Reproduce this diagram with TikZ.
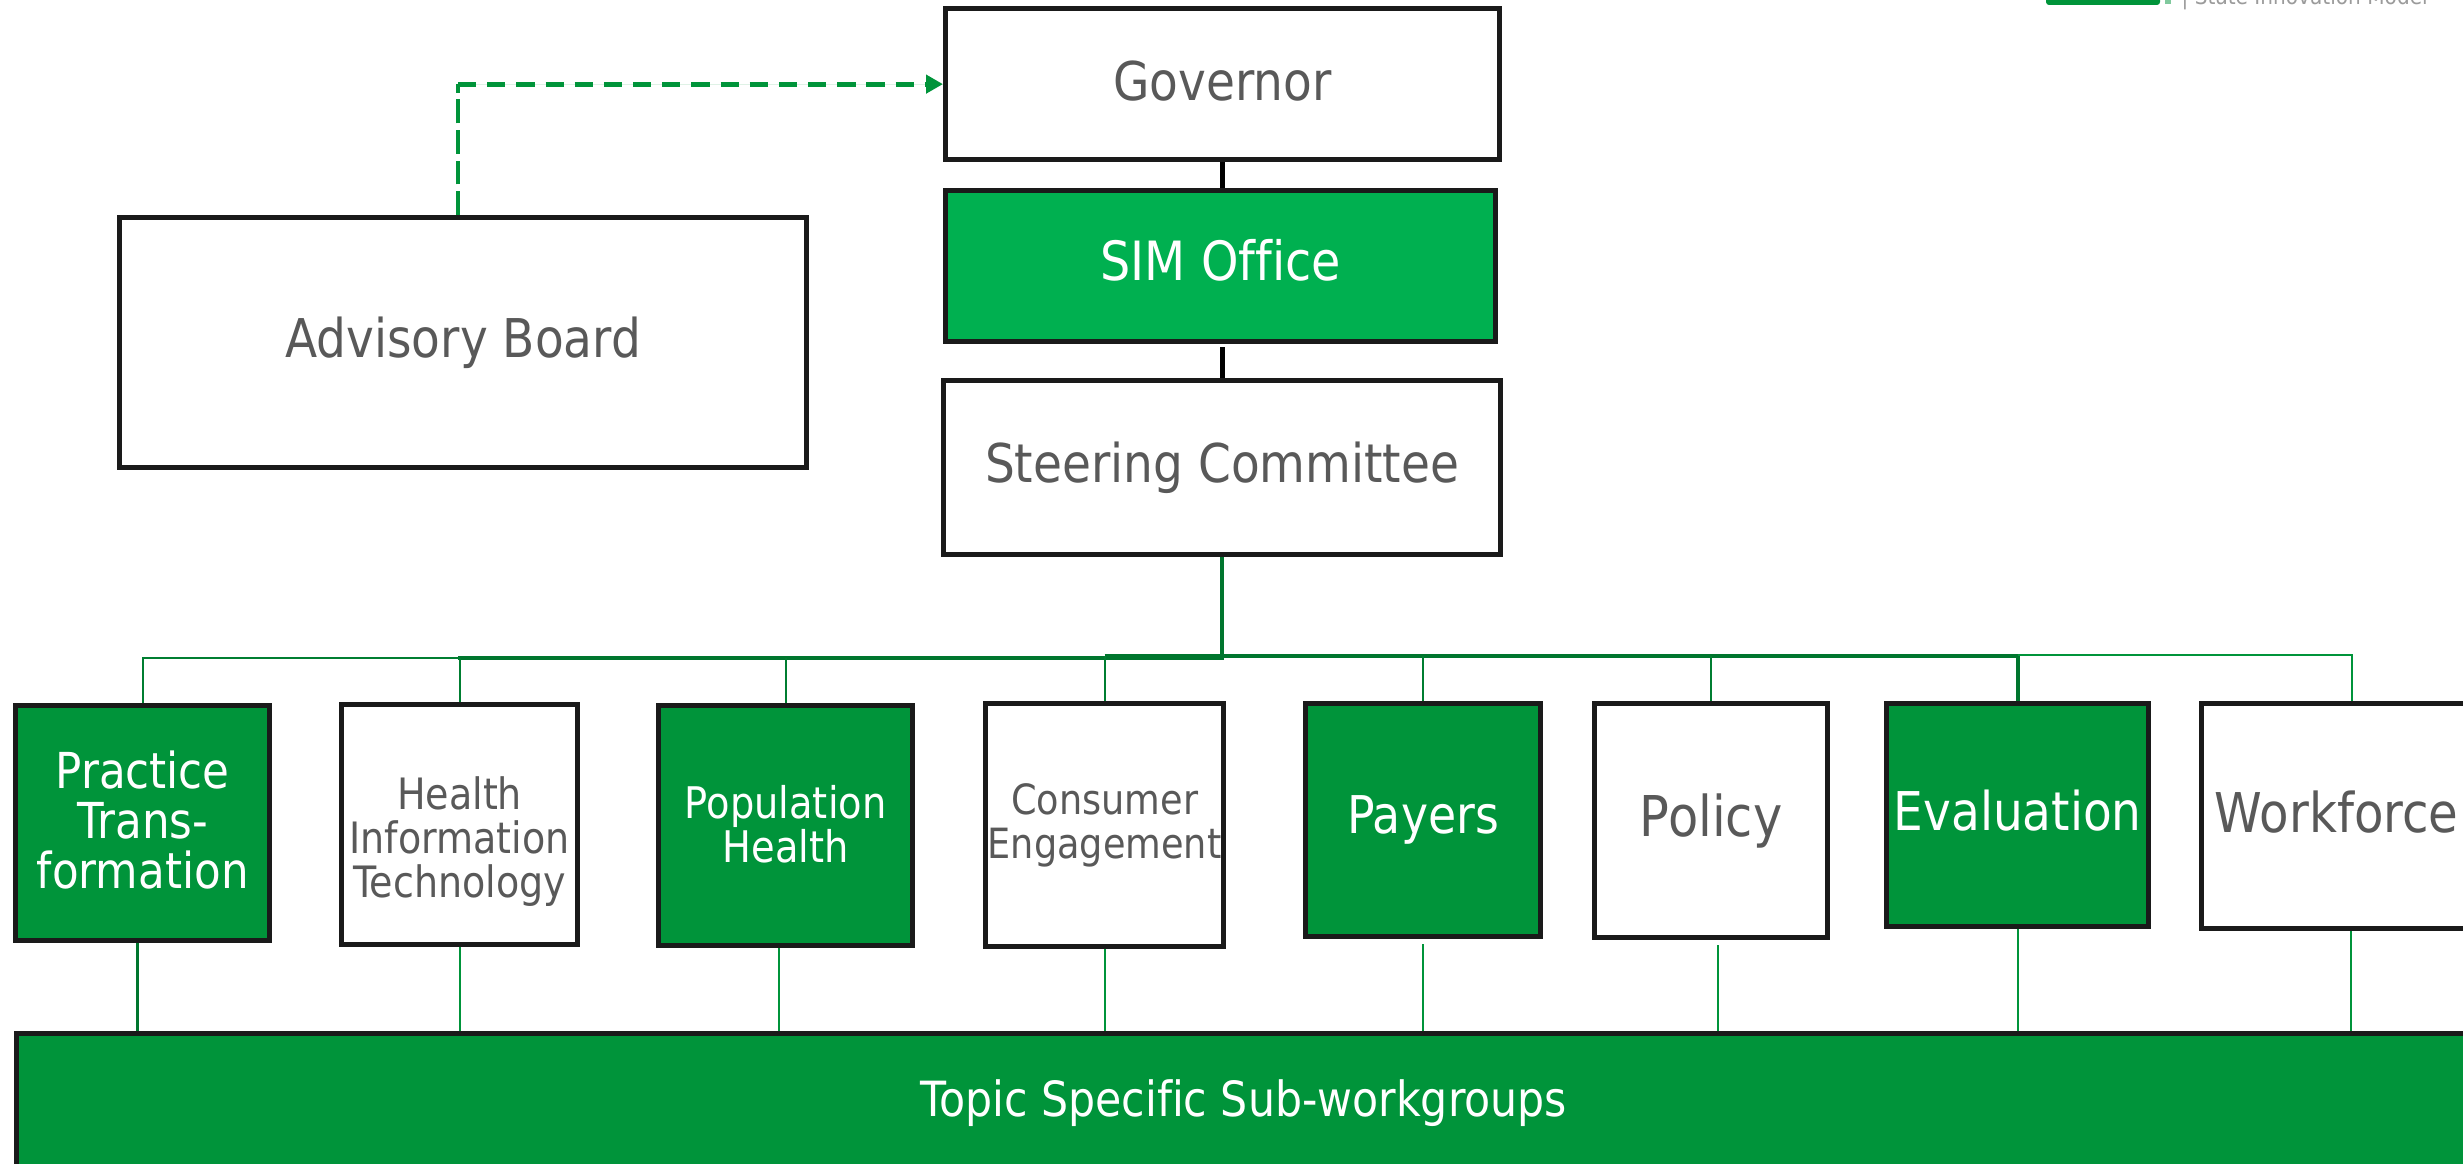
\documentclass[tikz,border=0pt]{standalone}
\usepackage{fontspec}
\setmainfont{DejaVu Sans}[FakeStretch=0.88,Ligatures=NoCommon]
\usetikzlibrary{%
  arrows.meta,%
  positioning,% wg. " of "
  calc%
}
\definecolor{simgreen}{HTML}{00943A}
\definecolor{officegreen}{HTML}{00B050}
\definecolor{boxtext}{HTML}{595959}
\definecolor{boxline}{HTML}{1A1A1A}

\begin{document}
\begin{tikzpicture}[
  font=\fontsize{15.2}{18}\selectfont, >={Triangle[length=1.7mm,width=1.8mm]},
  plainbox/.style={rectangle, anchor=north west, inner sep=0pt, align=center, line width=1.5pt, draw=boxline, fill=white, text=boxtext},
  greenbox/.style={plainbox, fill=simgreen, text=white},
  narrow/.style={font=\fontsize{12.3}{12.5}\selectfont},
  link/.style={draw=simgreen!85!black, line width=0.5pt},
  buslink/.style={draw=simgreen!80!black, line width=1.1pt}
]
\useasboundingbox (0,0) rectangle (24.63,-11.64);

% top row
\node[plainbox, text depth=1.7pt, minimum width=5.54cm, minimum height=1.51cm] (gov) at (9.43,-0.06) {Governor};
\node[greenbox, fill=officegreen, text depth=3.4pt, font=\fontsize{15.4}{18}\selectfont, minimum width=5.50cm, minimum height=1.51cm] (sim) at (9.43,-1.88) {SIM Office};
\node[plainbox, minimum width=5.57cm, minimum height=1.74cm] (ctee) at (9.41,-3.78) {Steering Committee};
\node[plainbox, minimum width=6.87cm, minimum height=2.50cm] (adv) at (1.17,-2.15) {Advisory Board};

% workgroups
\node[greenbox, text depth=2pt, font=\fontsize{14.1}{14.2}\selectfont, minimum width=2.54cm, minimum height=2.35cm] (prac) at (0.13,-7.03) {Practice\\Trans-\\formation};
\node[plainbox, narrow, minimum width=2.36cm, minimum height=2.40cm] (hit) at (3.39,-7.02) {\rule{0pt}{19pt}Health\\Information\\Technology};
\node[greenbox, narrow, font=\fontsize{12.4}{12.5}\selectfont, text depth=1.2pt, minimum width=2.54cm, minimum height=2.40cm] (pop) at (6.56,-7.03) {Population\\Health};
\node[plainbox, narrow, font=\fontsize{11.85}{12.5}\selectfont, minimum width=2.38cm, minimum height=2.43cm] (cons) at (9.83,-7.01) {Consumer\\Engagement};
\node[greenbox, font=\fontsize{14.8}{16}\selectfont, minimum width=2.35cm, minimum height=2.33cm] (pay) at (13.03,-7.01) {Payers};
\node[plainbox, font=\fontsize{16}{18}\selectfont, minimum width=2.33cm, minimum height=2.34cm] (pol) at (15.92,-7.01) {Policy};
\node[greenbox, text depth=2.7pt, minimum width=2.62cm, minimum height=2.23cm] (eval) at (18.84,-7.01) {Evaluation};
\node[plainbox, text depth=2.7pt, font=\fontsize{15.6}{18}\selectfont, minimum width=2.70cm, minimum height=2.25cm] (work) at (21.99,-7.01) {Workforce};
\node[greenbox, font=\fontsize{13.8}{16}\selectfont, minimum width=24.54cm, minimum height=1.38cm] (topic) at (0.14,-10.31) {Topic Specific Sub-workgroups};

% logo, cut off by the page
\fill[simgreen, rounded corners=0.3mm] (20.46,0.1) rectangle (21.60,-0.05);
\fill[simgreen!50] (21.65,0) rectangle (21.71,-0.04);
\node[anchor=base west, inner sep=0pt, text=boxtext!60, font=\fontsize{6.5}{7}\selectfont] (logo) at (21.81,-0.05) {| State Innovation Model};

% connectors
\coordinate (busL) at (4.58,-6.58);
\coordinate (busN) at (11.04,-6.56);
\coordinate (workin) at (23.52,-7.01);

\draw[line width=1.5pt, draw=black] (gov.south) -- (gov.south |- sim.north);
\draw[line width=1.5pt, draw=black] (ctee.north) -- ++(0,0.31);
\draw[buslink] (ctee.south) -- (ctee.south |- busL) -- (busL);
\draw[link] (hit.north |- busL) -- (prac.north |- busL) -- (prac.north);
\draw[link] (hit.north |- busL) -- (hit.north);
\draw[link] (pop.north |- busL) -- (pop.north);
\draw[buslink] (cons.north |- busN) -- (eval.north |- busN);
\draw[link] (cons.north |- busN) -- (cons.north);
\draw[link] (pay.north |- busN) -- (pay.north);
\draw[link] (pol.north |- busN) -- (pol.north);
\draw[buslink] (eval.north |- busN) -- (eval.north);
\draw[link, draw=simgreen] (eval.north |- 0,-6.55) -- (workin |- 0,-6.55) -- (workin);

\draw[buslink, line width=0.8pt] (prac.south) ++(-0.05,0) coordinate (pracout) -- (pracout |- topic.north);
\draw[link, draw=simgreen] (hit.south) -- (hit.south |- topic.north);
\draw[link, draw=simgreen] (pop.south) ++(-0.07,0) coordinate (popout) -- (popout |- topic.north);
\draw[link, draw=simgreen] (cons.south) -- (cons.south |- topic.north);
\draw[link, draw=simgreen] (pay.south) ++(0,-0.05) coordinate (payout) -- (payout |- topic.north);
\draw[link, draw=simgreen] (pol.south) ++(0.07,-0.05) coordinate (polout) -- (polout |- topic.north);
\draw[link, draw=simgreen] (eval.south) -- (eval.south |- topic.north);
\draw[link, draw=simgreen] (work.south) ++(0.14,0) coordinate (workout) -- (workout |- topic.north);

% dashed link to the governor
\coordinate (advcorner) at ($(adv.north west)+(3.41,0)$);
\draw[draw=simgreen, line width=1pt, dash pattern=on 6.8pt off 1.9pt] (advcorner) -- (advcorner |- gov.west);
\draw[->, draw=simgreen, fill=simgreen, line width=1.4pt, dash pattern=on 5.2pt off 3.1pt] (advcorner |- gov.west) -- (gov.west);
\end{tikzpicture}
\end{document}
